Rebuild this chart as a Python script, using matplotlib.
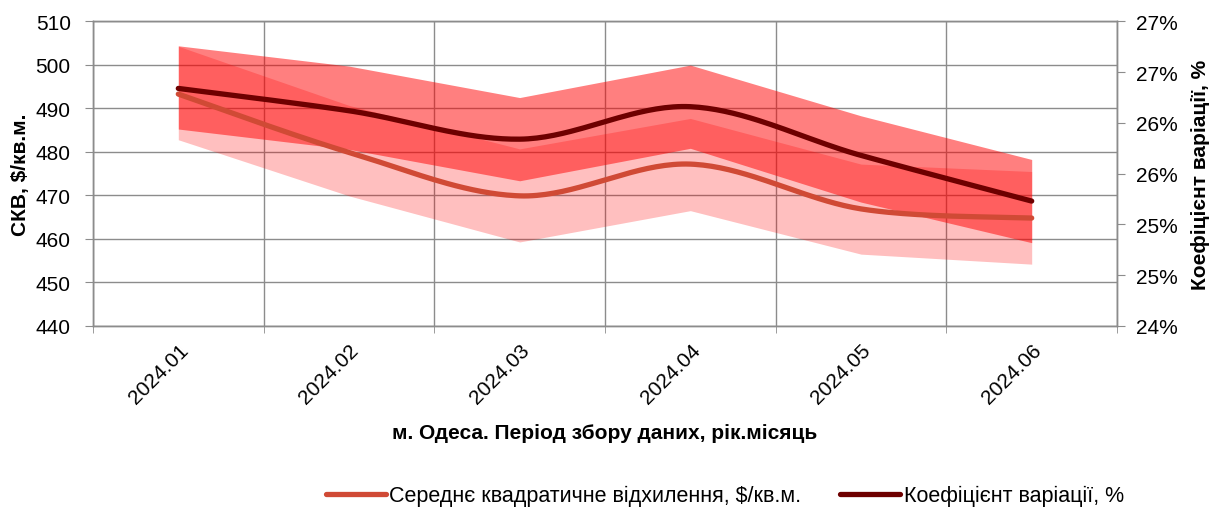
import numpy as np
import matplotlib.pyplot as plt
import matplotlib.transforms as mtrans

plt.rcParams['font.family'] = ['Liberation Sans', 'DejaVu Sans']

periods = ["2024.01", "2024.02", "2024.03", "2024.04", "2024.05", "2024.06"]

# СКВ, $/кв.м. and its band
skv = [493.3, 479.9, 469.9, 477.2, 466.9, 464.8]
skv_low = [482.8, 469.9, 459.3, 466.5, 456.5, 454.2]
skv_high = [504.3, 490.7, 480.7, 487.7, 477.2, 475.5]

# Коефіцієнт варіації, % and its band
cv = [26.34, 26.12, 25.84, 26.16, 25.68, 25.23]
cv_low = [25.94, 25.74, 25.43, 25.75, 25.22, 24.82]
cv_high = [26.76, 26.56, 26.25, 26.57, 26.07, 25.64]

grey = '#8c8c8c'
col_skv = '#d04a35'
col_cv = '#6e0000'
fs = 15


def smooth(x, y, n=40):
    # catmull-rom, like excel's smoothed line
    p = np.column_stack([x, y]).astype(float)
    p = np.vstack([p[0], p, p[-1]])
    t = np.linspace(0, 1, n, endpoint=False)[:, None]
    out = []
    for i in range(1, len(p) - 2):
        p0, p1, p2, p3 = p[i - 1], p[i], p[i + 1], p[i + 2]
        out.append(0.5 * (2 * p1 + (p2 - p0) * t
                          + (2 * p0 - 5 * p1 + 4 * p2 - p3) * t ** 2
                          + (3 * p1 - p0 - 3 * p2 + p3) * t ** 3))
    out.append(p[-2][None])
    s = np.vstack(out)
    return s[:, 0], s[:, 1]


x = np.arange(len(periods))

fig = plt.figure(figsize=(12.2, 5.1), dpi=100)
ax = fig.add_axes([0.0762, 0.359, 0.8394, 0.597])
ax2 = ax.twinx()

ax.fill_between(x, skv_low, skv_high, color='red', alpha=0.25, lw=0)
ax2.fill_between(x, cv_low, cv_high, color='red', alpha=0.5, lw=0)

sx, sy = smooth(x, skv)
l1, = ax2.plot(sx, sy, color=col_skv, lw=3.8, solid_capstyle='round',
               transform=ax.transData)
cx, cy = smooth(x, cv)
l2, = ax2.plot(cx, cy, color=col_cv, lw=3.8, solid_capstyle='round')

ax.set_xlim(-0.5, len(periods) - 0.5)
ax.set_ylim(440, 510)
ax.set_yticks(np.arange(440, 511, 10))
ax2.set_ylim(24, 27)
rt = np.arange(24, 27.01, 0.5)
ax2.set_yticks(rt)
ax2.set_yticklabels([f"{int(np.floor(v + 0.5))}%" for v in rt])

ax.set_xticks(x)
ax.set_xticklabels(periods, rotation=45, ha='right', rotation_mode='anchor')
shift = mtrans.ScaledTranslation(-0.07, 0, fig.dpi_scale_trans)
for lab in ax.get_xticklabels():
    lab.set_transform(lab.get_transform() + shift)
ax.set_xticks(np.arange(-0.5, len(periods)), minor=True)
ax.tick_params(axis='x', which='major', length=0, pad=10, labelsize=fs)
ax.tick_params(axis='x', which='minor', length=5, color=grey)
ax.tick_params(axis='y', length=6, color=grey, labelsize=fs, pad=10)
ax2.tick_params(axis='y', length=6, color=grey, labelsize=fs, pad=8)

ax.grid(True, which='minor', axis='x', color=grey, lw=1)
ax.grid(True, which='major', axis='y', color=grey, lw=1)
ax.set_axisbelow(True)

for a in (ax, ax2):
    for s in a.spines.values():
        s.set_color(grey)
        s.set_linewidth(1)

ax.set_ylabel("СКВ, $/кв.м.", fontsize=fs, fontweight='bold', labelpad=4)
ax2.set_ylabel("Коефіцієнт варіації, %", fontsize=fs, fontweight='bold', labelpad=9)
ax.set_xlabel("м. Одеса. Період збору даних, рік.місяць", fontsize=fs,
              fontweight='bold', labelpad=12)

fig.legend([l1, l2], ["Середнє квадратичне відхилення, $/кв.м.", "Коефіцієнт варіації, %"],
           loc='center', bbox_to_anchor=(0.594, 0.026), ncol=2, frameon=False,
           fontsize=15.5, handlelength=2.8, handletextpad=0.15, columnspacing=1.8)

fig.savefig('out.png', dpi=100)
